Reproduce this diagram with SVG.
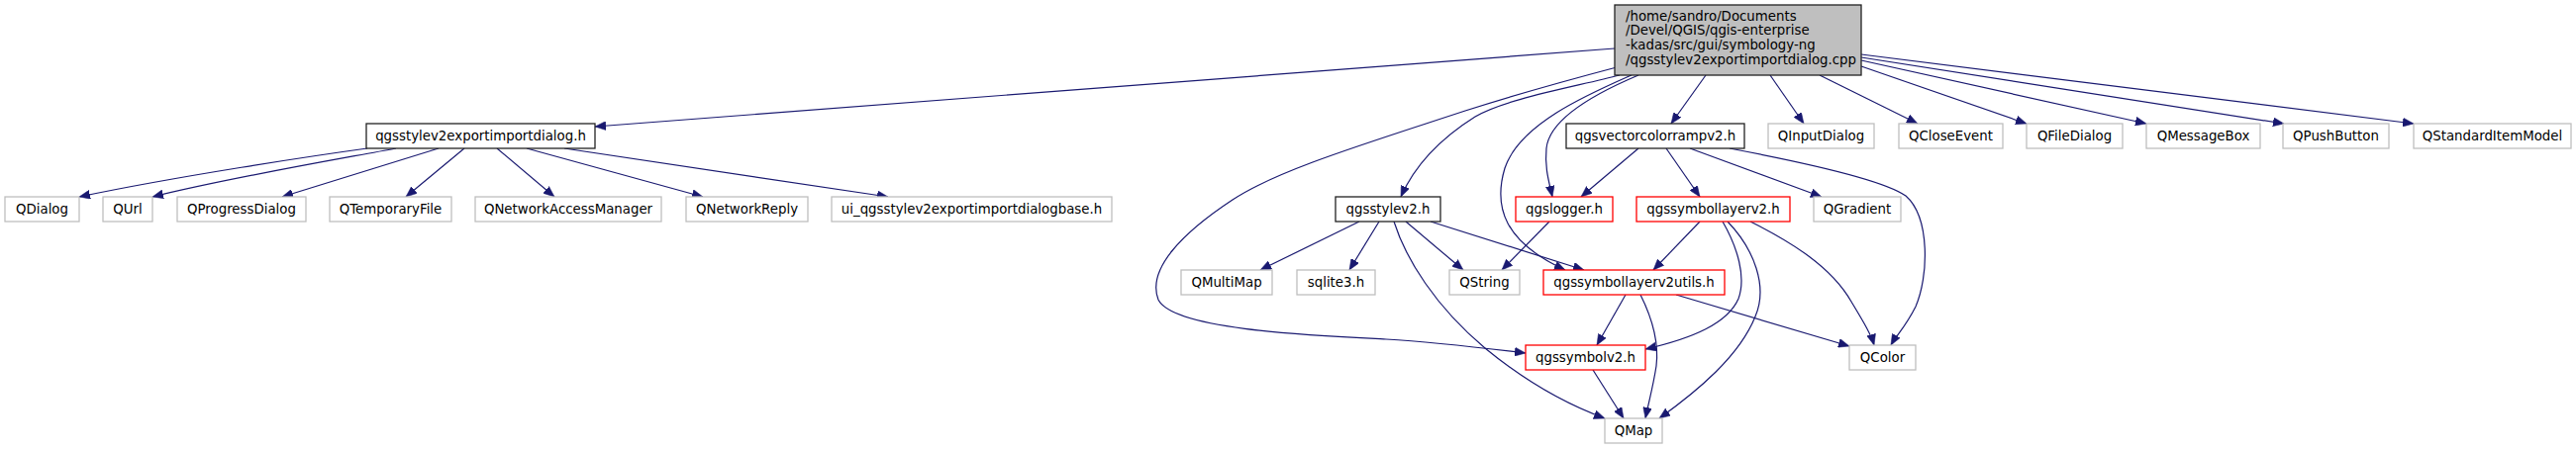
<svg xmlns="http://www.w3.org/2000/svg" width="2602" height="455" viewBox="0 0 2602 455">
<style>
text{font-family:"DejaVu Sans","Liberation Sans",sans-serif;font-size:13.33px;fill:#000;text-anchor:middle}
.g rect{fill:#fff;stroke:#bfbfbf;stroke-width:1.3}
.b rect{fill:#fff;stroke:#222;stroke-width:1.3}
.r rect{fill:#fff;stroke:#f00;stroke-width:1.3}
.e path{fill:none;stroke:#191970;stroke-width:1.2;marker-end:url(#ah)}
</style>
<defs>
<marker id="ah" markerWidth="12" markerHeight="9" refX="11" refY="4.5" orient="auto" markerUnits="userSpaceOnUse">
<path d="M0,0 L11,4.5 L0,9 z" fill="#191970" stroke="#191970" stroke-width="0.5"/>
</marker>
</defs>
<rect width="2602" height="455" fill="#fff"/>
<g id="edges" class="e">
<path d="M1631,49 L601,128"/>
<path d="M1633,68 C1580,82 1530,96 1480,112 C1380,145 1290,172 1245,202 C1195,235 1158,272 1170,303 C1185,333 1320,339 1400,343 C1450,346 1500,352 1541,357"/>
<path d="M1636,76 C1590,88 1520,100 1490,118 C1455,140 1430,165 1415,199"/>
<path d="M1648,76 C1605,95 1535,125 1520,170 C1508,210 1520,245 1581,273"/>
<path d="M1655,76 C1610,95 1565,120 1562,150 C1560,170 1565,185 1568,199"/>
<path d="M1723,76 L1688,125"/>
<path d="M1788,76 L1822,125"/>
<path d="M1838,76 L1937,125"/>
<path d="M1880,67 L2047,125"/>
<path d="M1880,61 L2168,125"/>
<path d="M1880,58 L2307,125"/>
<path d="M1880,55 L2438,125"/>
<path d="M371,150 C320,157 180,178 80,199"/>
<path d="M400,150 C330,163 230,180 154,199"/>
<path d="M443,150 L285,199"/>
<path d="M469,150 L410,199"/>
<path d="M502,150 L560,199"/>
<path d="M532,150 L710,199"/>
<path d="M570,150 L897,199"/>
<path d="M1373,224 L1273,273"/>
<path d="M1393,224 L1363,273"/>
<path d="M1408,224 C1420,262 1450,310 1500,352 C1540,385 1580,408 1621,423"/>
<path d="M1420,224 L1478,273"/>
<path d="M1445,224 L1600,273"/>
<path d="M1565,224 L1517,273"/>
<path d="M1655,150 L1597,199"/>
<path d="M1683,150 L1717,199"/>
<path d="M1707,150 L1840,199"/>
<path d="M1747,150 C1800,160 1900,180 1925,198 C1950,220 1948,280 1935,310 C1925,330 1915,340 1910,349"/>
<path d="M1717,224 L1670,273"/>
<path d="M1740,224 C1755,250 1764,280 1756,302 C1745,327 1710,342 1662,353"/>
<path d="M1745,224 C1772,252 1786,290 1773,320 C1757,360 1715,395 1676,423"/>
<path d="M1768,224 C1810,245 1850,270 1870,305 C1882,325 1890,338 1893,349"/>
<path d="M1642,298 L1613,349"/>
<path d="M1657,298 C1668,320 1676,345 1673,370 C1670,390 1665,408 1662,423"/>
<path d="M1693,298 L1868,350"/>
<path d="M1609,374 L1640,423"/>
</g>
<g id="n_root">
<rect x="1631" y="5" width="249" height="71" fill="#bfbfbf" stroke="#222" stroke-width="1.3"/>
<text x="1642" y="20.5" style="text-anchor:start">/home/sandro/Documents</text>
<text x="1642" y="35.2" style="text-anchor:start">/Devel/QGIS/qgis-enterprise</text>
<text x="1642" y="49.9" style="text-anchor:start">-kadas/src/gui/symbology-ng</text>
<text x="1642" y="64.6" style="text-anchor:start">/qgsstylev2exportimportdialog.cpp</text>
</g>
<g id="n_dlgh" class="b"><rect x="370" y="125" width="231" height="25"/><text x="485.5" y="142">qgsstylev2exportimportdialog.h</text></g>
<g id="n_vcr" class="b"><rect x="1582" y="125" width="180" height="25"/><text x="1672" y="142">qgsvectorcolorrampv2.h</text></g>
<g id="n_qinputdialog" class="g"><rect x="1786" y="125" width="107" height="25"/><text x="1839.5" y="142">QInputDialog</text></g>
<g id="n_qcloseevent" class="g"><rect x="1918" y="125" width="105" height="25"/><text x="1970.5" y="142">QCloseEvent</text></g>
<g id="n_qfiledialog" class="g"><rect x="2047" y="125" width="97" height="25"/><text x="2095.5" y="142">QFileDialog</text></g>
<g id="n_qmessagebox" class="g"><rect x="2168" y="125" width="115" height="25"/><text x="2225.5" y="142">QMessageBox</text></g>
<g id="n_qpushbutton" class="g"><rect x="2306" y="125" width="107" height="25"/><text x="2359.5" y="142">QPushButton</text></g>
<g id="n_qstandarditemmodel" class="g"><rect x="2438" y="125" width="159" height="25"/><text x="2517.5" y="142">QStandardItemModel</text></g>
<g id="n_qdialog" class="g"><rect x="5" y="199" width="75" height="25"/><text x="42.5" y="216">QDialog</text></g>
<g id="n_qurl" class="g"><rect x="104" y="199" width="50" height="25"/><text x="129" y="216">QUrl</text></g>
<g id="n_qprogressdialog" class="g"><rect x="179" y="199" width="130" height="25"/><text x="244" y="216">QProgressDialog</text></g>
<g id="n_qtemporaryfile" class="g"><rect x="333" y="199" width="123" height="25"/><text x="394.5" y="216">QTemporaryFile</text></g>
<g id="n_qnam" class="g"><rect x="480" y="199" width="188" height="25"/><text x="574" y="216">QNetworkAccessManager</text></g>
<g id="n_qnetworkreply" class="g"><rect x="693" y="199" width="123" height="25"/><text x="754.5" y="216">QNetworkReply</text></g>
<g id="n_ui" class="g"><rect x="840" y="199" width="283" height="25"/><text x="981.5" y="216">ui_qgsstylev2exportimportdialogbase.h</text></g>
<g id="n_stylev2" class="b"><rect x="1349" y="199" width="106" height="25"/><text x="1402" y="216">qgsstylev2.h</text></g>
<g id="n_logger" class="r"><rect x="1531" y="199" width="98" height="25"/><text x="1580" y="216">qgslogger.h</text></g>
<g id="n_symlayer" class="r"><rect x="1653" y="199" width="155" height="25"/><text x="1730.5" y="216">qgssymbollayerv2.h</text></g>
<g id="n_qgradient" class="g"><rect x="1832" y="199" width="88" height="25"/><text x="1876" y="216">QGradient</text></g>
<g id="n_qmultimap" class="g"><rect x="1193" y="273" width="92" height="25"/><text x="1239" y="290">QMultiMap</text></g>
<g id="n_sqlite" class="g"><rect x="1310" y="273" width="79" height="25"/><text x="1349.5" y="290">sqlite3.h</text></g>
<g id="n_qstring" class="g"><rect x="1464" y="273" width="71" height="25"/><text x="1499.5" y="290">QString</text></g>
<g id="n_utils" class="r"><rect x="1559" y="273" width="183" height="25"/><text x="1650.5" y="290">qgssymbollayerv2utils.h</text></g>
<g id="n_symbolv2" class="r"><rect x="1541" y="349" width="121" height="25"/><text x="1601.5" y="366">qgssymbolv2.h</text></g>
<g id="n_qcolor" class="g"><rect x="1868" y="349" width="67" height="25"/><text x="1901.5" y="366">QColor</text></g>
<g id="n_qmap" class="g"><rect x="1621" y="423" width="58" height="25"/><text x="1650" y="440">QMap</text></g>
</svg>
